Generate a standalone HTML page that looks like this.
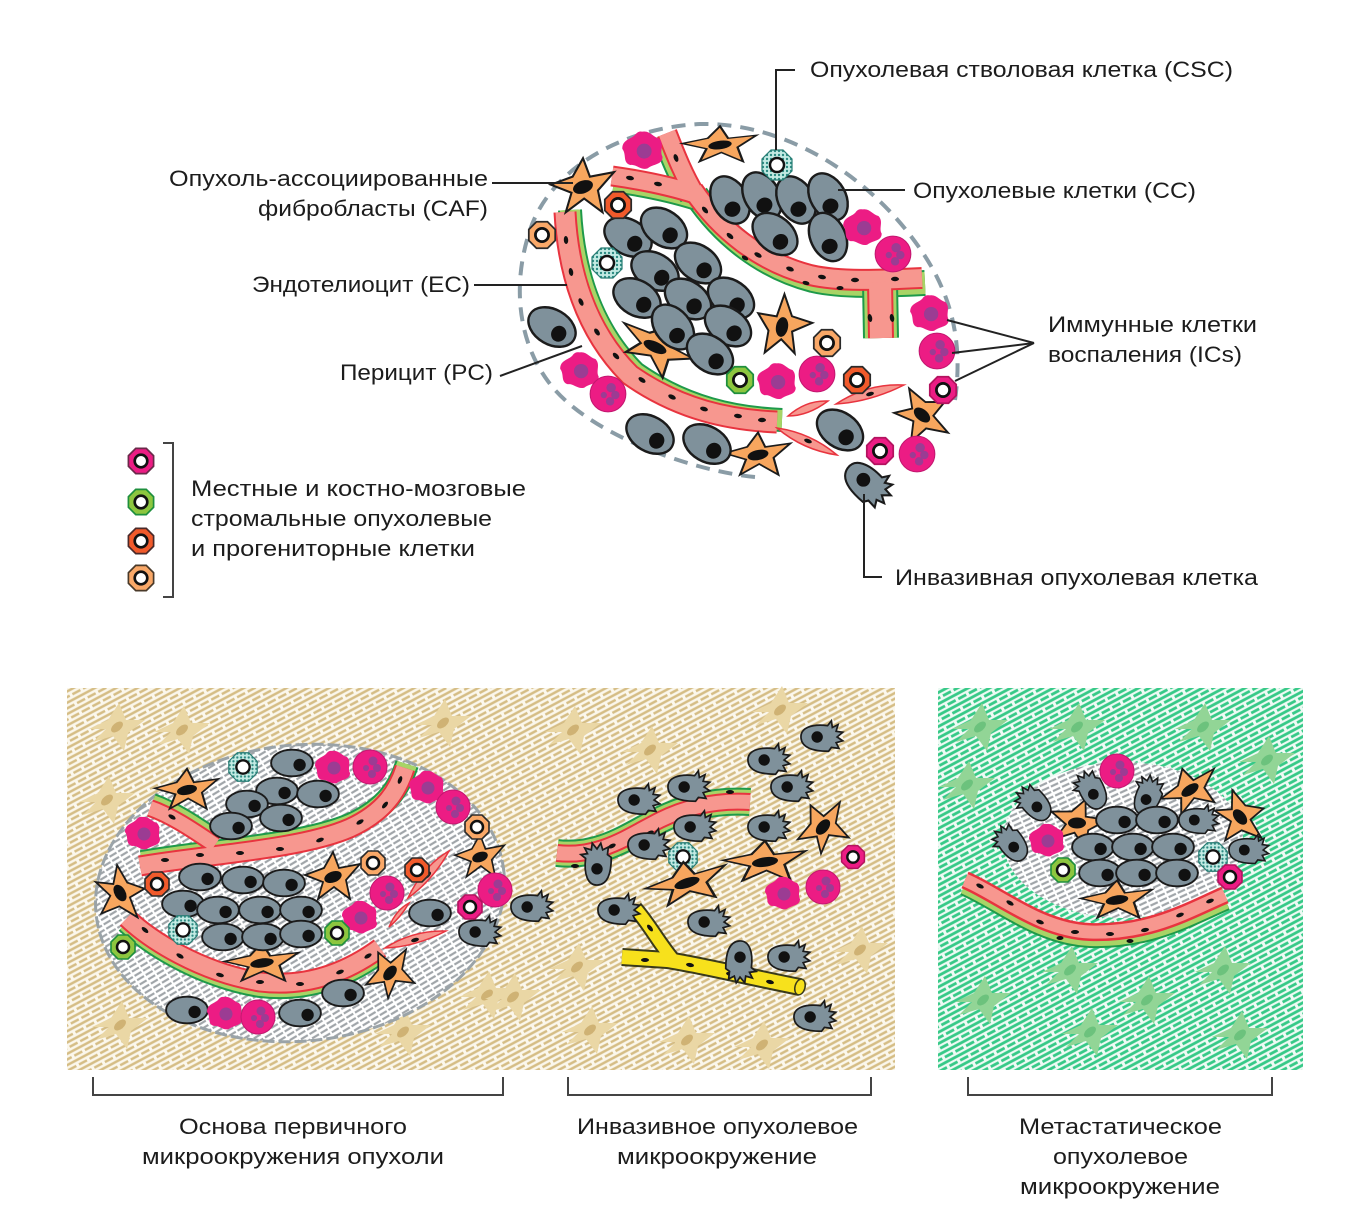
<!DOCTYPE html>
<html><head><meta charset="utf-8"><style>
html,body{margin:0;padding:0;background:#fff;}
svg{display:block;}
text{font-family:"Liberation Sans",Arial,sans-serif;font-size:22px;fill:#1c1c1c;}
</style></head><body>
<svg width="1352" height="1228" viewBox="0 0 1352 1228" xmlns="http://www.w3.org/2000/svg">
<defs>
<pattern id="tanH" width="12" height="10" patternUnits="userSpaceOnUse" patternTransform="rotate(-28)">
<line x1="0" y1="2" x2="12" y2="2" stroke="#d5bd85" stroke-width="2.5"/>
<line x1="2" y1="7" x2="11" y2="7" stroke="#d5bd85" stroke-width="2.5"/>
</pattern>
<pattern id="greenH" width="12" height="10" patternUnits="userSpaceOnUse" patternTransform="rotate(-28)">
<line x1="0" y1="2" x2="12" y2="2" stroke="#36c987" stroke-width="2.8"/>
<line x1="2" y1="7" x2="11" y2="7" stroke="#36c987" stroke-width="2.8"/>
</pattern>
<pattern id="grayH" width="10" height="5" patternUnits="userSpaceOnUse" patternTransform="rotate(-25)">
<line x1="0" y1="2" x2="8" y2="2" stroke="#a0a5a9" stroke-width="2.2"/>
</pattern>
<pattern id="dots" width="4" height="4" patternUnits="userSpaceOnUse">
<rect width="4" height="4" fill="#c4ebe4"/>
<circle cx="2" cy="2" r="1.2" fill="#2c8b83"/>
</pattern>

<g id="cc"><ellipse rx="22" ry="14" fill="#7f919b" stroke="#1b1b1b" stroke-width="2"/><circle cx="8" cy="2" r="6.5" fill="#111"/></g>
<g id="inv"><path d="M -20 1 C -21 -10 -8 -14 8 -12 L 12 -17 L 13 -10 L 19 -13 L 17 -6 L 24 -5 L 18 0 L 24 4 L 17 6 L 20 12 L 12 11 L 9 15 C -6 15 -19 12 -20 1 Z" fill="#7f919b" stroke="#1b1b1b" stroke-width="1.8"/><circle cx="-3" cy="0" r="6" fill="#111"/></g>
<g id="ib"><path d="M 0 -16 C 6 -17 9 -11 14 -10 C 19 -5 14 1 17 6 C 17 13 9 12 4 16 C -2 18 -6 12 -11 13 C -18 11 -14 4 -18 -1 C -18 -9 -11 -9 -7 -13 C -4 -17 -2 -16 0 -16 Z" fill="#ec1c84"/><circle cx="1" cy="1" r="6.5" fill="#9b3c93"/></g>
<g id="ir"><circle r="17" fill="#ec1c84" stroke="#c3176f" stroke-width="1"/><g fill="#9b3c93"><circle cx="3" cy="-6" r="4.5"/><circle cx="7" cy="1" r="4"/><circle cx="2" cy="7" r="4"/><circle cx="-4" cy="1" r="3"/></g></g>
<g id="oct"><polygon points="12,5 5,12 -5,12 -12,5 -12,-5 -5,-12 5,-12 12,-5" stroke-width="1.6"/><circle r="6" fill="#fff" stroke="#111" stroke-width="2.5"/></g>
<g id="csc"><polygon points="15,6 6,15 -6,15 -15,6 -15,-6 -6,-15 6,-15 15,-6" fill="url(#dots)" stroke="#2a7e75" stroke-width="1.2"/><circle r="7" fill="#fff" stroke="#111" stroke-width="2.5"/></g>
<g id="caf"><path d="M -28 -2 L -9 -9 L 0 -25 L 6 -9 L 27 -13 L 13 3 L 17 22 L 1 10 L -15 22 L -10 5 Z" fill="#f7a65e" stroke="#1b1b1b" stroke-width="1.8"/><ellipse rx="9" ry="5.5" transform="rotate(-20)" fill="#111"/></g>
<g id="tf"><path d="M -28 2 L -9 -7 L 2 -24 L 9 -7 L 28 -7 L 11 6 L 7 24 L -4 9 L -24 15 L -11 2 Z" fill="#ead7a5"/><ellipse rx="7" ry="4" transform="rotate(-40)" fill="#cfb274"/></g>
<g id="gf"><path d="M -28 2 L -9 -7 L 2 -24 L 9 -7 L 28 -7 L 11 6 L 7 24 L -4 9 L -24 15 L -11 2 Z" fill="#92d596"/><ellipse rx="7" ry="4" transform="rotate(-40)" fill="#6cc27d"/></g>

<path id="vA1" d="M 612 176 C 640 180 670 186 695 194"/>
<path id="vA2" d="M 667 133 C 676 156 684 176 695 194"/>
<path id="vA3" d="M 693 190 C 720 230 760 262 810 275 C 840 282 880 280 922 278"/>
<path id="vA4" d="M 880 282 L 881 338"/>
<path id="vB" d="M 565 212 C 568 270 585 330 630 375 C 680 410 730 420 777 422"/>
<path id="pU" d="M 140 866 C 200 855 300 850 350 828 C 385 812 398 790 405 768"/>
<path id="pU2" d="M 150 808 C 170 815 190 828 215 845"/>
<path id="pL" d="M 127 918 C 150 940 200 972 260 982 C 310 988 350 970 380 948"/>
<path id="iP" d="M 557 853 C 600 858 630 835 660 820 C 690 805 720 800 750 802"/>
<path id="iY1" d="M 622 957 L 667 960 C 700 965 740 975 800 987"/>
<path id="iY2" d="M 635 908 C 650 925 660 945 675 962"/>
<path id="mV" d="M 965 880 C 1000 895 1040 930 1090 932 C 1150 934 1190 910 1225 895"/>
</defs>

<!-- ================= TOP DIAGRAM ================= -->
<path d="M 755 477 C 700 472 600 440 555 390 C 520 350 510 290 530 230 C 550 170 620 128 700 124 C 780 122 860 170 910 235 C 945 280 965 330 955 400" fill="none" stroke="#8a9ca6" stroke-width="4" stroke-dasharray="14 9"/>

<!-- vessels top -->
<g fill="none">
<use href="#vA3" stroke="#1e9a4a" stroke-width="26" transform="translate(3,5)"/>
<use href="#vA3" stroke="#a8d466" stroke-width="22" transform="translate(3,5)"/>
<use href="#vA1" stroke="#1e9a4a" stroke-width="24" transform="translate(2,5)"/>
<use href="#vA1" stroke="#a8d466" stroke-width="20" transform="translate(2,5)"/>
<use href="#vA2" stroke="#1e9a4a" stroke-width="24" transform="translate(-4,2)"/>
<use href="#vA2" stroke="#a8d466" stroke-width="20" transform="translate(-4,2)"/>
<use href="#vA4" stroke="#1e9a4a" stroke-width="36"/>
<use href="#vA4" stroke="#a8d466" stroke-width="32"/>
<use href="#vB" stroke="#1e9a4a" stroke-width="24" transform="translate(5,-2)"/>
<use href="#vB" stroke="#a8d466" stroke-width="20" transform="translate(5,-2)"/>
<use href="#vA1" stroke="#e8343f" stroke-width="21"/>
<use href="#vA2" stroke="#e8343f" stroke-width="21"/>
<use href="#vA3" stroke="#e8343f" stroke-width="22"/>
<use href="#vA4" stroke="#e8343f" stroke-width="26"/>
<use href="#vB" stroke="#e8343f" stroke-width="23"/>
<use href="#vA1" stroke="#f7978f" stroke-width="17"/>
<use href="#vA2" stroke="#f7978f" stroke-width="17"/>
<use href="#vA3" stroke="#f7978f" stroke-width="18"/>
<use href="#vA4" stroke="#f7978f" stroke-width="22"/>
<use href="#vB" stroke="#f7978f" stroke-width="19"/>
</g>
<g fill="#f7978f" stroke="#e8343f" stroke-width="1.5">
<path d="M 777 428 Q 803 450 837 455 Q 811 433 777 428 Z"/>
<path d="M 788 416 Q 808 416 828 401 Q 806 400 788 416 Z"/>
<path d="M 836 404 Q 870 402 904 385 Q 868 383 836 404 Z"/>
</g>
<g fill="#111">
<ellipse cx="630" cy="178" rx="4" ry="2.2" transform="rotate(10 630 178)"/>
<ellipse cx="658" cy="184" rx="4" ry="2.2" transform="rotate(10 658 184)"/>
<ellipse cx="676" cy="158" rx="4" ry="2.2" transform="rotate(70 676 158)"/>
<ellipse cx="705" cy="210" rx="4" ry="2.2" transform="rotate(50 705 210)"/>
<ellipse cx="730" cy="236" rx="4" ry="2.2" transform="rotate(40 730 236)"/>
<ellipse cx="758" cy="255" rx="4" ry="2.2" transform="rotate(30 758 255)"/>
<ellipse cx="790" cy="269" rx="4" ry="2.2" transform="rotate(20 790 269)"/>
<ellipse cx="822" cy="277" rx="4" ry="2.2" transform="rotate(10 822 277)"/>
<ellipse cx="855" cy="280" rx="4" ry="2.2"/>
<ellipse cx="895" cy="279" rx="4" ry="2.2"/>
<ellipse cx="870" cy="318" rx="4" ry="2.2" transform="rotate(80 870 318)"/>
<ellipse cx="892" cy="318" rx="4" ry="2.2" transform="rotate(80 892 318)"/>
<ellipse cx="745" cy="258" rx="3.5" ry="2" transform="rotate(30 745 258)"/>
<ellipse cx="806" cy="283" rx="3.5" ry="2" transform="rotate(15 806 283)"/>
<ellipse cx="840" cy="288" rx="3.5" ry="2"/>
<ellipse cx="566" cy="240" rx="4" ry="2.2" transform="rotate(85 566 240)"/>
<ellipse cx="571" cy="272" rx="4" ry="2.2" transform="rotate(80 571 272)"/>
<ellipse cx="581" cy="302" rx="4" ry="2.2" transform="rotate(65 581 302)"/>
<ellipse cx="597" cy="332" rx="4" ry="2.2" transform="rotate(55 597 332)"/>
<ellipse cx="616" cy="356" rx="4" ry="2.2" transform="rotate(45 616 356)"/>
<ellipse cx="642" cy="380" rx="4" ry="2.2" transform="rotate(35 642 380)"/>
<ellipse cx="672" cy="397" rx="4" ry="2.2" transform="rotate(25 672 397)"/>
<ellipse cx="704" cy="409" rx="4" ry="2.2" transform="rotate(15 704 409)"/>
<ellipse cx="738" cy="416" rx="4" ry="2.2" transform="rotate(8 738 416)"/>
<ellipse cx="762" cy="420" rx="4" ry="2.2"/>
<ellipse cx="808" cy="441" rx="4" ry="2" transform="rotate(20 808 441)"/>
<ellipse cx="870" cy="394" rx="4" ry="2" transform="rotate(-15 870 394)"/>
</g>

<!-- CAFs top -->
<use href="#caf" transform="translate(720,145) scale(1.35,0.75)"/>
<use href="#caf" transform="translate(583,187) scale(1.15)"/>
<use href="#caf" transform="translate(655,347) rotate(35) scale(1.4,0.95)"/>
<use href="#caf" transform="translate(782,327) rotate(-60) scale(1.1)"/>
<use href="#caf" transform="translate(922,415) rotate(60) scale(1.05)"/>
<use href="#caf" transform="translate(758,455) scale(1.2,0.9)"/>

<!-- tumor cells top -->
<g>
<use href="#cc" transform="translate(730,200) rotate(60) scale(1.15,1.25)"/>
<use href="#cc" transform="translate(762,196) rotate(60) scale(1.15,1.25)"/>
<use href="#cc" transform="translate(796,200) rotate(60) scale(1.15,1.25)"/>
<use href="#cc" transform="translate(828,197) rotate(60) scale(1.15,1.25)"/>
<use href="#cc" transform="translate(775,234) rotate(40) scale(1.15,1.25)"/>
<use href="#cc" transform="translate(828,237) rotate(65) scale(1.15,1.25)"/>
<use href="#cc" transform="translate(628,237) rotate(30) scale(1.15,1.25)"/>
<use href="#cc" transform="translate(664,228) rotate(35) scale(1.15,1.25)"/>
<use href="#cc" transform="translate(655,271) rotate(30) scale(1.15,1.25)"/>
<use href="#cc" transform="translate(698,263) rotate(35) scale(1.15,1.25)"/>
<use href="#cc" transform="translate(637,298) rotate(30) scale(1.15,1.25)"/>
<use href="#cc" transform="translate(688,299) rotate(35) scale(1.15,1.25)"/>
<use href="#cc" transform="translate(731,298) rotate(35) scale(1.15,1.25)"/>
<use href="#cc" transform="translate(673,327) rotate(50) scale(1.15,1.25)"/>
<use href="#cc" transform="translate(728,326) rotate(35) scale(1.15,1.25)"/>
<use href="#cc" transform="translate(710,354) rotate(35) scale(1.15,1.25)"/>
<use href="#cc" transform="translate(552,327) rotate(30) scale(1.15,1.25)"/>
<use href="#cc" transform="translate(650,434) rotate(30) scale(1.15,1.25)"/>
<use href="#cc" transform="translate(707,444) rotate(30) scale(1.15,1.25)"/>
<use href="#cc" transform="translate(840,430) rotate(35) scale(1.15,1.25)"/>
<use href="#inv" transform="translate(866,482) rotate(40) scale(1.15)"/>
</g>

<!-- immune top -->
<use href="#ib" transform="translate(643,150) scale(1.15)"/>
<use href="#ib" transform="translate(863,227) scale(1.1)"/>
<use href="#ir" transform="translate(893,254) scale(1.05)"/>
<use href="#ib" transform="translate(930,313) scale(1.1)"/>
<use href="#ir" transform="translate(937,351) scale(1.05)"/>
<use href="#ib" transform="translate(580,370) scale(1.1)"/>
<use href="#ir" transform="translate(608,394) scale(1.05)"/>
<use href="#ib" transform="translate(777,381) scale(1.1)"/>
<use href="#ir" transform="translate(817,374) scale(1.05)"/>
<use href="#ir" transform="translate(917,454) scale(1.05)"/>

<!-- octagons top -->
<use href="#oct" fill="#f15a2b" stroke="#2a2a2a" transform="translate(618,205) scale(1.1)"/>
<use href="#oct" fill="#f9a868" stroke="#2a2a2a" transform="translate(542,235) scale(1.1)"/>
<use href="#oct" fill="#8dc63f" stroke="#1e8f3e" transform="translate(740,380) scale(1.1)"/>
<use href="#oct" fill="#f15a2b" stroke="#2a2a2a" transform="translate(857,380) scale(1.1)"/>
<use href="#oct" fill="#f9a868" stroke="#2a2a2a" transform="translate(827,343) scale(1.1)"/>
<use href="#oct" fill="#ec1c84" stroke="#b3135f" transform="translate(943,390) scale(1.1)"/>
<use href="#oct" fill="#ec1c84" stroke="#b3135f" transform="translate(880,451) scale(1.1)"/>
<use href="#csc" transform="translate(777,165)"/>
<use href="#csc" transform="translate(607,263)"/>

<!-- label connectors top -->
<g fill="none" stroke="#222" stroke-width="2">
<polyline points="795,70 776,70 776,150"/>
<line x1="838" y1="190" x2="905" y2="190"/>
<line x1="492" y1="183" x2="573" y2="183"/>
<line x1="474" y1="285" x2="567" y2="285"/>
<line x1="500" y1="376" x2="582" y2="346"/>
<line x1="1034" y1="343" x2="947" y2="320"/>
<line x1="1034" y1="343" x2="952" y2="353"/>
<line x1="1034" y1="343" x2="955" y2="381"/>
<polyline points="864,494 864,577 882,577"/>
</g>
<polyline points="163,443 173,443 173,597 163,597" fill="none" stroke="#444" stroke-width="2"/>

<!-- legend -->
<use href="#oct" fill="#ec1c84" stroke="#6a2a4a" transform="translate(141,461) scale(1.05)"/>
<use href="#oct" fill="#8dc63f" stroke="#1e8f3e" transform="translate(141,502) scale(1.05)"/>
<use href="#oct" fill="#f15a2b" stroke="#4a2a2a" transform="translate(141,541) scale(1.05)"/>
<use href="#oct" fill="#f9a868" stroke="#4a3a2a" transform="translate(141,578) scale(1.05)"/>

<!-- labels -->
<text x="810" y="77" textLength="423" lengthAdjust="spacingAndGlyphs">Опухолевая стволовая клетка (CSC)</text>
<text x="913" y="198" textLength="283" lengthAdjust="spacingAndGlyphs">Опухолевые клетки (CC)</text>
<text x="169" y="186" textLength="319" lengthAdjust="spacingAndGlyphs">Опухоль-ассоциированные</text>
<text x="258" y="216" textLength="230" lengthAdjust="spacingAndGlyphs">фибробласты (CAF)</text>
<text x="252" y="292" textLength="218" lengthAdjust="spacingAndGlyphs">Эндотелиоцит (EC)</text>
<text x="340" y="380" textLength="153" lengthAdjust="spacingAndGlyphs">Перицит (PC)</text>
<text x="1048" y="332" textLength="209" lengthAdjust="spacingAndGlyphs">Иммунные клетки</text>
<text x="1048" y="362" textLength="194" lengthAdjust="spacingAndGlyphs">воспаления (ICs)</text>
<text x="895" y="585" textLength="363" lengthAdjust="spacingAndGlyphs">Инвазивная опухолевая клетка</text>
<text x="191" y="496" textLength="335" lengthAdjust="spacingAndGlyphs">Местные и костно-мозговые</text>
<text x="191" y="526" textLength="301" lengthAdjust="spacingAndGlyphs">стромальные опухолевые</text>
<text x="191" y="556" textLength="284" lengthAdjust="spacingAndGlyphs">и прогениторные клетки</text>

<!-- ================= BOTTOM PANELS ================= -->
<rect x="67" y="688" width="828" height="382" fill="#fbf7ec"/>
<rect x="67" y="688" width="828" height="382" fill="url(#tanH)"/>
<rect x="938" y="688" width="365" height="382" fill="#eefaf4"/>
<rect x="938" y="688" width="365" height="382" fill="url(#greenH)"/>

<!-- tan fibroblasts -->
<use href="#tf" transform="translate(117,727)"/>
<use href="#tf" transform="translate(182,730)"/>
<use href="#tf" transform="translate(107,800)"/>
<use href="#tf" transform="translate(443,723)"/>
<use href="#tf" transform="translate(487,995)"/>
<use href="#tf" transform="translate(120,1025)"/>
<use href="#tf" transform="translate(403,1032)"/>
<use href="#tf" transform="translate(573,730)"/>
<use href="#tf" transform="translate(650,750)"/>
<use href="#tf" transform="translate(780,710)"/>
<use href="#tf" transform="translate(577,967)"/>
<use href="#tf" transform="translate(590,1030)"/>
<use href="#tf" transform="translate(687,1040)"/>
<use href="#tf" transform="translate(762,1045)"/>
<use href="#tf" transform="translate(513,997)"/>
<use href="#tf" transform="translate(860,950)"/>

<!-- green fibroblasts -->
<use href="#gf" transform="translate(980,727)"/>
<use href="#gf" transform="translate(1077,727)"/>
<use href="#gf" transform="translate(1203,727)"/>
<use href="#gf" transform="translate(1267,760)"/>
<use href="#gf" transform="translate(967,785)"/>
<use href="#gf" transform="translate(1070,970)"/>
<use href="#gf" transform="translate(1223,970)"/>
<use href="#gf" transform="translate(983,1000)"/>
<use href="#gf" transform="translate(1147,1000)"/>
<use href="#gf" transform="translate(1090,1032)"/>
<use href="#gf" transform="translate(1240,1035)"/>

<!-- primary ellipse -->
<ellipse cx="300" cy="893" rx="205" ry="148" transform="rotate(-6 300 893)" fill="#fff"/>
<ellipse cx="300" cy="893" rx="205" ry="148" transform="rotate(-6 300 893)" fill="url(#grayH)" stroke="#9aa3a8" stroke-width="3" stroke-dasharray="12 4"/>

<!-- primary vessels -->
<g fill="none">
<use href="#pU" stroke="#1e9a4a" stroke-width="24" transform="translate(2,-4)"/>
<use href="#pU" stroke="#a8d466" stroke-width="20" transform="translate(2,-4)"/>
<use href="#pU2" stroke="#1e9a4a" stroke-width="22" transform="translate(2,-4)"/>
<use href="#pU2" stroke="#a8d466" stroke-width="18" transform="translate(2,-4)"/>
<use href="#pL" stroke="#1e9a4a" stroke-width="24" transform="translate(0,4)"/>
<use href="#pL" stroke="#a8d466" stroke-width="20" transform="translate(0,4)"/>
<use href="#pU" stroke="#e8343f" stroke-width="21"/>
<use href="#pU2" stroke="#e8343f" stroke-width="18"/>
<use href="#pL" stroke="#e8343f" stroke-width="21"/>
<use href="#pU" stroke="#f7978f" stroke-width="17"/>
<use href="#pU2" stroke="#f7978f" stroke-width="14"/>
<use href="#pL" stroke="#f7978f" stroke-width="17"/>
</g>
<g fill="#f7978f" stroke="#e8343f" stroke-width="1.5">
<path d="M 385 948 Q 415 947 446 931 Q 413 930 385 948 Z"/>
<path d="M 408 898 Q 433 880 449 851 Q 423 866 408 898 Z"/>
<path d="M 389 927 Q 401 917 409 903 Q 396 910 389 927 Z"/>
</g>
<g fill="#111">
<ellipse cx="165" cy="860" rx="4" ry="2"/>
<ellipse cx="200" cy="855" rx="4" ry="2"/>
<ellipse cx="240" cy="853" rx="4" ry="2"/>
<ellipse cx="280" cy="849" rx="4" ry="2"/>
<ellipse cx="320" cy="840" rx="4" ry="2" transform="rotate(-20 320 840)"/>
<ellipse cx="360" cy="822" rx="4" ry="2" transform="rotate(-30 360 822)"/>
<ellipse cx="385" cy="805" rx="4" ry="2" transform="rotate(-50 385 805)"/>
<ellipse cx="400" cy="780" rx="4" ry="2" transform="rotate(-70 400 780)"/>
<ellipse cx="172" cy="817" rx="4" ry="2" transform="rotate(30 172 817)"/>
<ellipse cx="145" cy="930" rx="4" ry="2" transform="rotate(40 145 930)"/>
<ellipse cx="180" cy="956" rx="4" ry="2" transform="rotate(30 180 956)"/>
<ellipse cx="220" cy="975" rx="4" ry="2" transform="rotate(15 220 975)"/>
<ellipse cx="260" cy="982" rx="4" ry="2"/>
<ellipse cx="300" cy="984" rx="4" ry="2"/>
<ellipse cx="340" cy="972" rx="4" ry="2" transform="rotate(-20 340 972)"/>
<ellipse cx="368" cy="956" rx="4" ry="2" transform="rotate(-30 368 956)"/>
<ellipse cx="415" cy="940" rx="4" ry="2" transform="rotate(-15 415 940)"/>
<ellipse cx="428" cy="875" rx="4" ry="2" transform="rotate(-50 428 875)"/>
</g>

<!-- primary CAFs -->
<use href="#caf" transform="translate(187,790) scale(1.15,0.85)"/>
<use href="#caf" transform="translate(120,893) rotate(80)"/>
<use href="#caf" transform="translate(333,877)"/>
<use href="#caf" transform="translate(480,857) scale(0.9)"/>
<use href="#caf" transform="translate(262,963) scale(1.35,0.8)"/>
<use href="#caf" transform="translate(390,973) rotate(-30) scale(0.95)"/>

<!-- primary tumor cells -->
<use href="#cc" transform="translate(292,763) scale(0.95)"/>
<use href="#cc" transform="translate(277,791) scale(0.95)"/>
<use href="#cc" transform="translate(318,794) scale(0.95)"/>
<use href="#cc" transform="translate(247,804) scale(0.95)"/>
<use href="#cc" transform="translate(281,818) scale(0.95)"/>
<use href="#cc" transform="translate(231,826) scale(0.95)"/>
<use href="#cc" transform="translate(200,877) scale(0.95)"/>
<use href="#cc" transform="translate(243,880) scale(0.95)"/>
<use href="#cc" transform="translate(284,883) scale(0.95)"/>
<use href="#cc" transform="translate(183,904) scale(0.95)"/>
<use href="#cc" transform="translate(218,910) scale(0.95)"/>
<use href="#cc" transform="translate(260,910) scale(0.95)"/>
<use href="#cc" transform="translate(301,910) scale(0.95)"/>
<use href="#cc" transform="translate(223,937) scale(0.95)"/>
<use href="#cc" transform="translate(263,937) scale(0.95)"/>
<use href="#cc" transform="translate(301,934) scale(0.95)"/>
<use href="#cc" transform="translate(187,1010) scale(0.95)"/>
<use href="#cc" transform="translate(300,1013) scale(0.95)"/>
<use href="#cc" transform="translate(343,993) scale(0.95)"/>
<use href="#cc" transform="translate(430,913) scale(0.95)"/>
<use href="#inv" transform="translate(478,932) scale(0.95)"/>

<!-- primary immune / octagons -->
<use href="#ib" transform="translate(333,767)"/>
<use href="#ir" transform="translate(370,767)"/>
<use href="#ib" transform="translate(427,787)"/>
<use href="#ir" transform="translate(453,807)"/>
<use href="#ib" transform="translate(143,833)"/>
<use href="#ir" transform="translate(387,893)"/>
<use href="#ib" transform="translate(360,917)"/>
<use href="#ir" transform="translate(495,890)"/>
<use href="#ib" transform="translate(225,1013)"/>
<use href="#ir" transform="translate(258,1017)"/>
<use href="#oct" fill="#ec1c84" stroke="#b3135f" transform="translate(470,907)"/>
<use href="#csc" transform="translate(243,767) scale(0.95)"/>
<use href="#csc" transform="translate(183,930) scale(0.95)"/>
<use href="#oct" fill="#f15a2b" stroke="#2a2a2a" transform="translate(157,884)"/>
<use href="#oct" fill="#f15a2b" stroke="#2a2a2a" transform="translate(417,870)"/>
<use href="#oct" fill="#f9a868" stroke="#2a2a2a" transform="translate(373,863)"/>
<use href="#oct" fill="#f9a868" stroke="#2a2a2a" transform="translate(477,827)"/>
<use href="#oct" fill="#8dc63f" stroke="#1e8f3e" transform="translate(337,933)"/>
<use href="#oct" fill="#8dc63f" stroke="#1e8f3e" transform="translate(123,947)"/>

<!-- invasive panel -->
<g fill="none">
<use href="#iP" stroke="#1e9a4a" stroke-width="28"/>
<use href="#iP" stroke="#a8d466" stroke-width="24"/>
<use href="#iP" stroke="#e8343f" stroke-width="18"/>
<use href="#iP" stroke="#f7978f" stroke-width="14"/>
<use href="#iY1" stroke="#3a3a1a" stroke-width="18"/>
<use href="#iY2" stroke="#3a3a1a" stroke-width="16"/>
<use href="#iY1" stroke="#f7e11c" stroke-width="14"/>
<use href="#iY2" stroke="#f7e11c" stroke-width="12"/>
</g>
<ellipse cx="800" cy="987" rx="5" ry="8" fill="#f7e11c" stroke="#3a3a1a" stroke-width="1.5" transform="rotate(15 800 987)"/>
<g fill="#111">
<ellipse cx="575" cy="866" rx="4" ry="2"/>
<ellipse cx="612" cy="846" rx="4" ry="2" transform="rotate(-25 612 846)"/>
<ellipse cx="650" cy="833" rx="4" ry="2" transform="rotate(-25 650 833)"/>
<ellipse cx="690" cy="796" rx="4" ry="2" transform="rotate(-15 690 796)"/>
<ellipse cx="730" cy="792" rx="4" ry="2"/>
<ellipse cx="645" cy="960" rx="4" ry="2"/>
<ellipse cx="690" cy="965" rx="4" ry="2" transform="rotate(10 690 965)"/>
<ellipse cx="730" cy="974" rx="4" ry="2" transform="rotate(12 730 974)"/>
<ellipse cx="770" cy="982" rx="4" ry="2" transform="rotate(12 770 982)"/>
<ellipse cx="650" cy="928" rx="4" ry="2" transform="rotate(50 650 928)"/>
</g>
<use href="#csc" transform="translate(683,857) scale(0.95)"/>
<use href="#caf" transform="translate(687,883) rotate(-10) scale(1.5,0.85)"/>
<use href="#caf" transform="translate(765,862) scale(1.5,0.85)"/>
<use href="#caf" transform="translate(823,827) rotate(-30)"/>
<use href="#ib" transform="translate(783,893)"/>
<use href="#ir" transform="translate(823,887)"/>
<use href="#oct" fill="#ec1c84" stroke="#b3135f" transform="translate(853,857) scale(0.95)"/>
<use href="#inv" transform="translate(530,907) scale(0.95)"/>
<use href="#inv" transform="translate(637,800) scale(0.95)"/>
<use href="#inv" transform="translate(687,787) scale(0.95)"/>
<use href="#inv" transform="translate(693,827) scale(0.95)"/>
<use href="#inv" transform="translate(647,845) scale(0.95)"/>
<use href="#inv" transform="translate(597,866) rotate(-90) scale(0.95)"/>
<use href="#inv" transform="translate(617,910) scale(0.95)"/>
<use href="#inv" transform="translate(707,922) scale(0.95)"/>
<use href="#inv" transform="translate(740,960) rotate(90) scale(0.95)"/>
<use href="#inv" transform="translate(787,957) scale(0.95)"/>
<use href="#inv" transform="translate(767,760) scale(0.95)"/>
<use href="#inv" transform="translate(790,787) scale(0.95)"/>
<use href="#inv" transform="translate(820,737) scale(0.95)"/>
<use href="#inv" transform="translate(767,827) scale(0.95)"/>
<use href="#inv" transform="translate(813,1017) scale(0.95)"/>

<!-- metastatic -->
<ellipse cx="1123" cy="840" rx="120" ry="78" fill="#fff"/>
<ellipse cx="1123" cy="840" rx="120" ry="78" fill="url(#grayH)"/>
<g fill="none">
<use href="#mV" stroke="#1e9a4a" stroke-width="24" transform="translate(0,4)"/>
<use href="#mV" stroke="#a8d466" stroke-width="20" transform="translate(0,4)"/>
<use href="#mV" stroke="#e8343f" stroke-width="18"/>
<use href="#mV" stroke="#f7978f" stroke-width="13"/>
</g>
<g fill="#111">
<ellipse cx="980" cy="886" rx="4" ry="2" transform="rotate(25 980 886)"/>
<ellipse cx="1010" cy="903" rx="4" ry="2" transform="rotate(30 1010 903)"/>
<ellipse cx="1040" cy="922" rx="4" ry="2" transform="rotate(20 1040 922)"/>
<ellipse cx="1075" cy="932" rx="4" ry="2"/>
<ellipse cx="1110" cy="934" rx="4" ry="2"/>
<ellipse cx="1145" cy="930" rx="4" ry="2" transform="rotate(-10 1145 930)"/>
<ellipse cx="1180" cy="915" rx="4" ry="2" transform="rotate(-20 1180 915)"/>
<ellipse cx="1210" cy="901" rx="4" ry="2" transform="rotate(-20 1210 901)"/>
<ellipse cx="1060" cy="938" rx="3.5" ry="2"/>
<ellipse cx="1130" cy="941" rx="3.5" ry="2"/>
</g>
<use href="#caf" transform="translate(1077,823) rotate(20)"/>
<use href="#caf" transform="translate(1190,790) rotate(-20) scale(1.1,0.9)"/>
<use href="#caf" transform="translate(1240,817) rotate(70)"/>
<use href="#caf" transform="translate(1117,900) scale(1.3,0.8)"/>
<use href="#inv" transform="translate(1035,805) rotate(-135) scale(0.9)"/>
<use href="#inv" transform="translate(1092,792) rotate(-120) scale(0.9)"/>
<use href="#inv" transform="translate(1147,797) rotate(-70) scale(0.9)"/>
<use href="#inv" transform="translate(1197,820) scale(0.9)"/>
<use href="#inv" transform="translate(1012,845) rotate(-130) scale(0.9)"/>
<use href="#inv" transform="translate(1247,850) scale(0.9)"/>
<use href="#cc" transform="translate(1117,820) scale(0.95)"/>
<use href="#cc" transform="translate(1157,820) scale(0.95)"/>
<use href="#cc" transform="translate(1093,847) scale(0.95)"/>
<use href="#cc" transform="translate(1133,847) scale(0.95)"/>
<use href="#cc" transform="translate(1173,847) scale(0.95)"/>
<use href="#cc" transform="translate(1100,873) scale(0.95)"/>
<use href="#cc" transform="translate(1137,873) scale(0.95)"/>
<use href="#cc" transform="translate(1177,873) scale(0.95)"/>
<use href="#ir" transform="translate(1117,771)"/>
<use href="#ib" transform="translate(1047,840)"/>
<use href="#oct" fill="#8dc63f" stroke="#1e8f3e" transform="translate(1063,870)"/>
<use href="#csc" transform="translate(1213,857) scale(0.95)"/>
<use href="#oct" fill="#ec1c84" stroke="#b3135f" transform="translate(1230,877)"/>

<!-- bottom brackets -->
<g fill="none" stroke="#444" stroke-width="2">
<polyline points="93,1077 93,1095 503,1095 503,1077"/>
<polyline points="568,1077 568,1095 871,1095 871,1077"/>
<polyline points="968,1077 968,1095 1272,1095 1272,1077"/>
</g>

<text x="179" y="1134" textLength="228" lengthAdjust="spacingAndGlyphs">Основа первичного</text>
<text x="142" y="1164" textLength="302" lengthAdjust="spacingAndGlyphs">микроокружения опухоли</text>
<text x="577" y="1134" textLength="281" lengthAdjust="spacingAndGlyphs">Инвазивное опухолевое</text>
<text x="617" y="1164" textLength="200" lengthAdjust="spacingAndGlyphs">микроокружение</text>
<text x="1019" y="1134" textLength="203" lengthAdjust="spacingAndGlyphs">Метастатическое</text>
<text x="1053" y="1164" textLength="135" lengthAdjust="spacingAndGlyphs">опухолевое</text>
<text x="1020" y="1194" textLength="200" lengthAdjust="spacingAndGlyphs">микроокружение</text>
</svg>
</body></html>
